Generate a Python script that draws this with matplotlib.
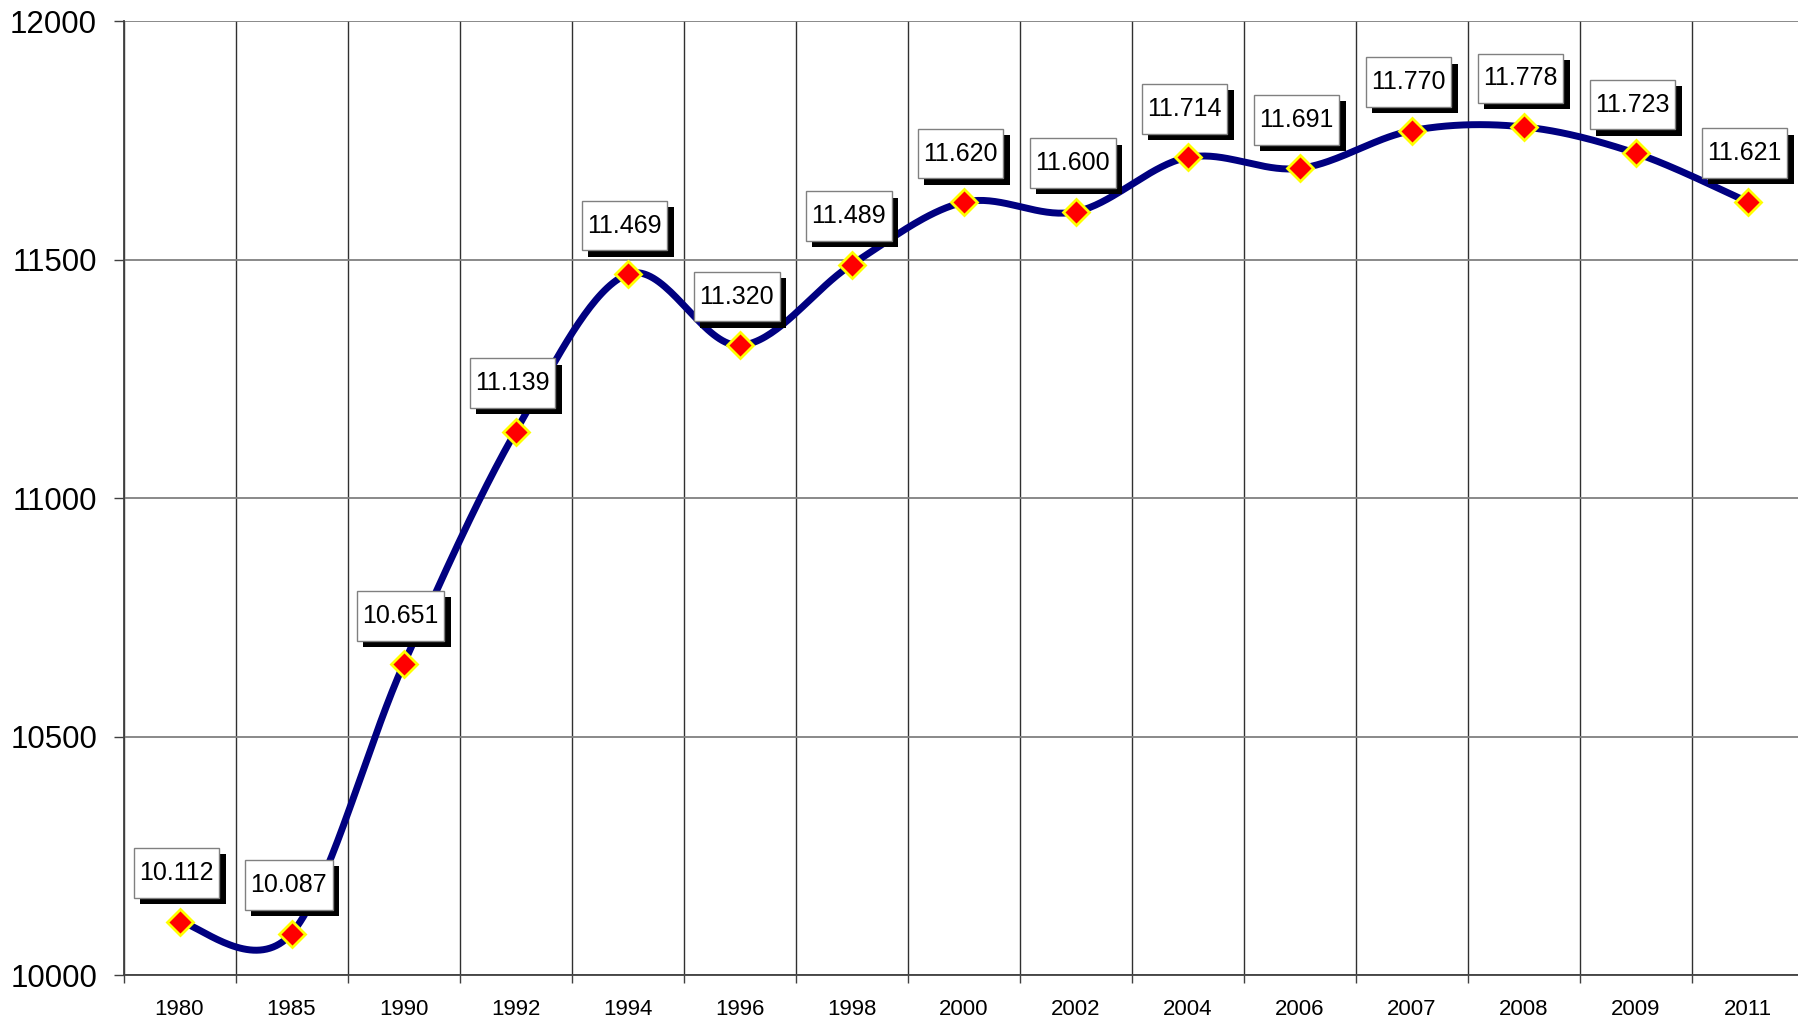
import numpy as np
import matplotlib.pyplot as plt
import matplotlib.patheffects as pe
from matplotlib.path import Path
from matplotlib.ticker import FixedLocator, MultipleLocator

plt.rcParams['font.family'] = ['Liberation Sans', 'DejaVu Sans']

# Data
years = ['1980', '1985', '1990', '1992', '1994', '1996', '1998', '2000',
         '2002', '2004', '2006', '2007', '2008', '2009', '2011']
values = [10112, 10087, 10651, 11139, 11469, 11320, 11489, 11620,
          11600, 11714, 11691, 11770, 11778, 11723, 11621]


def smooth(xs, ys, n=40):
    # Excel-style smoothed line: cubic Bezier with Catmull-Rom control points
    pts = np.column_stack([xs, ys]).astype(float)
    ext = np.vstack([pts[0], pts, pts[-1]])
    out = []
    t = np.linspace(0, 1, n)[:, None]
    for i in range(len(pts) - 1):
        p0 = ext[i + 1]
        p3 = ext[i + 2]
        p1 = p0 + (ext[i + 2] - ext[i]) / 6
        p2 = p3 - (ext[i + 3] - ext[i + 1]) / 6
        seg = ((1 - t) ** 3) * p0 + 3 * ((1 - t) ** 2) * t * p1 \
            + 3 * (1 - t) * t ** 2 * p2 + t ** 3 * p3
        out.append(seg)
    out = np.vstack(out)
    return out[:, 0], out[:, 1]


def label_box(x0, y0, width, height, mutation_size):
    # rectangle with more padding top/bottom than left/right
    px = 0.22 * mutation_size
    py = 0.51 * mutation_size
    return Path([(x0 - px, y0 - py), (x0 + width + px, y0 - py),
                 (x0 + width + px, y0 + height + py),
                 (x0 - px, y0 + height + py), (x0 - px, y0 - py)],
                closed=True)


x = np.arange(len(years))

fig = plt.figure(figsize=(17.98, 10.21), dpi=100)
ax = fig.add_axes([123.5 / 1798, 46 / 1021, 1680 / 1798, 954 / 1021])

sx, sy = smooth(x, values)
ax.plot(sx, sy, color='#000080', lw=5, solid_capstyle='round', zorder=3)
ax.plot(x, values, ls='none', marker='D', ms=13, mfc='#ff0000',
        mec='#ffff00', mew=2, zorder=4)

for xi, v in zip(x, values):
    label = f"{v // 1000}.{v % 1000:03d}"
    t = ax.annotate(label, (xi, v), xytext=(-2, 35), textcoords='offset points',
                    ha='center', va='center', fontsize=18, zorder=5,
                    bbox=dict(boxstyle=label_box, fc='white',
                              ec='#808080', lw=1))
    t.get_bbox_patch().set_path_effects([
        pe.SimplePatchShadow(offset=(4.5, -4.5), shadow_rgbFace='black', alpha=1),
        pe.Normal()])

ax.set_xlim(-0.5, len(years) - 0.5)
ax.set_ylim(10000, 12000)
ax.yaxis.set_major_locator(MultipleLocator(500))

ax.set_xticks(x)
ax.set_xticklabels(years, fontsize=16)
ax.xaxis.set_minor_locator(FixedLocator(np.arange(-0.5, len(years), 1)))
ax.tick_params(axis='x', which='major', length=0, pad=17)
ax.tick_params(axis='x', which='minor', length=6, width=1, color='#404040')
ax.tick_params(axis='y', length=7, width=1, color='#404040', pad=12,
               labelsize=22.5)

ax.grid(axis='y', color='#808080', lw=1.3)
ax.grid(axis='x', which='minor', color='#303030', lw=1)
ax.set_axisbelow(True)

for s in ['top', 'right']:
    ax.spines[s].set_visible(False)
for s in ['left', 'bottom']:
    ax.spines[s].set_color('#404040')
    ax.spines[s].set_linewidth(1.3)

fig.savefig('out.png', dpi=100)
